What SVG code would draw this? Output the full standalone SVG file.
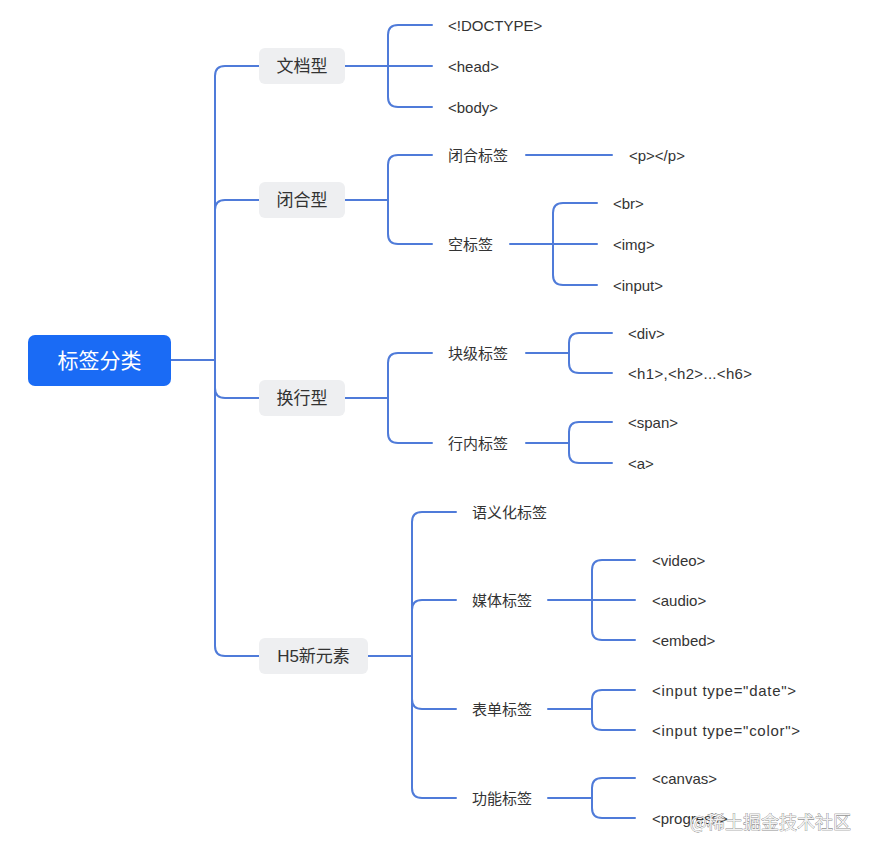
<svg xmlns="http://www.w3.org/2000/svg" width="873" height="856" viewBox="0 0 873 856">
<style>
.c{fill:none;stroke:#4f7bd9;stroke-width:2;stroke-linecap:round}
.l1{fill:#eeeff1}
.t1{font-family:"Liberation Sans","Noto Sans CJK SC",sans-serif;font-size:17px;fill:#333;text-anchor:middle;dominant-baseline:central}
.t2{font-family:"Liberation Sans","Noto Sans CJK SC",sans-serif;font-size:15px;fill:#333;dominant-baseline:central}
.root{font-family:"Liberation Sans","Noto Sans CJK SC",sans-serif;font-size:21px;fill:#fff;text-anchor:middle;dominant-baseline:central}
.wm{font-family:"Noto Sans CJK SC",sans-serif;font-size:18px;fill:#f2f2f2;stroke:#666;stroke-width:0.6;paint-order:stroke}
</style>
<rect width="873" height="856" fill="#fff"/>
<g id="connectors">
<path class="c" d="M171 360 H215"/>
<path class="c" d="M215 360 V76 Q215 66 225 66 H259"/>
<path class="c" d="M215 360 V210 Q215 200 225 200 H259"/>
<path class="c" d="M215 360 V388 Q215 398 225 398 H259"/>
<path class="c" d="M215 360 V646 Q215 656 225 656 H259"/>
<path class="c" d="M345 66 H432"/>
<path class="c" d="M388 66 V35 Q388 25 398 25 H432"/>
<path class="c" d="M388 66 V97 Q388 107 398 107 H432"/>
<path class="c" d="M345 200 H388"/>
<path class="c" d="M388 200 V165 Q388 155 398 155 H432"/>
<path class="c" d="M388 200 V234 Q388 244 398 244 H432"/>
<path class="c" d="M526 155 H612"/>
<path class="c" d="M510 244 H597"/>
<path class="c" d="M553 244 V213 Q553 203 563 203 H597"/>
<path class="c" d="M553 244 V275 Q553 285 563 285 H597"/>
<path class="c" d="M345 398 H388"/>
<path class="c" d="M388 398 V363 Q388 353 398 353 H432"/>
<path class="c" d="M388 398 V433 Q388 443 398 443 H432"/>
<path class="c" d="M526 353 H569"/>
<path class="c" d="M569 353 V343 Q569 333 579 333 H612"/>
<path class="c" d="M569 353 V363 Q569 373 579 373 H612"/>
<path class="c" d="M526 443 H569"/>
<path class="c" d="M569 443 V432 Q569 422 579 422 H612"/>
<path class="c" d="M569 443 V453 Q569 463 579 463 H612"/>
<path class="c" d="M368 656 H412"/>
<path class="c" d="M412 656 V522 Q412 512 422 512 H456"/>
<path class="c" d="M412 656 V610 Q412 600 422 600 H456"/>
<path class="c" d="M412 656 V699 Q412 709 422 709 H456"/>
<path class="c" d="M412 656 V788 Q412 798 422 798 H456"/>
<path class="c" d="M548 600 H635"/>
<path class="c" d="M592 600 V570 Q592 560 602 560 H635"/>
<path class="c" d="M592 600 V630 Q592 640 602 640 H635"/>
<path class="c" d="M548 709 H592"/>
<path class="c" d="M592 709 V700 Q592 690 602 690 H635"/>
<path class="c" d="M592 709 V720 Q592 730 602 730 H635"/>
<path class="c" d="M548 798 H592"/>
<path class="c" d="M592 798 V788 Q592 778 602 778 H635"/>
<path class="c" d="M592 798 V808 Q592 818 602 818 H635"/>
</g>
<g id="root"><rect x="28" y="335" width="143" height="51" rx="7" fill="#1a6bf5"/><text class="root" x="99.5" y="360.5">标签分类</text></g>
<g id="n-doc"><rect class="l1" x="259" y="48" width="86" height="36" rx="6"/><text class="t1" x="302" y="66">文档型</text></g>
<g id="n-close"><rect class="l1" x="259" y="182" width="86" height="36" rx="6"/><text class="t1" x="302" y="200">闭合型</text></g>
<g id="n-line"><rect class="l1" x="259" y="380" width="86" height="36" rx="6"/><text class="t1" x="302" y="398">换行型</text></g>
<g id="n-h5"><rect class="l1" x="259" y="638" width="109" height="36" rx="6"/><text class="t1" x="313.5" y="656">H5新元素</text></g>
<g id="doctype"><text class="t2" x="448" y="25">&lt;!DOCTYPE&gt;</text></g>
<g id="head"><text class="t2" x="448" y="66">&lt;head&gt;</text></g>
<g id="body"><text class="t2" x="448" y="107">&lt;body&gt;</text></g>
<g id="closed-tag"><text class="t2" x="448" y="155">闭合标签</text></g>
<g id="p"><text class="t2" x="629" y="155">&lt;p&gt;&lt;/p&gt;</text></g>
<g id="empty-tag"><text class="t2" x="448" y="244">空标签</text></g>
<g id="br"><text class="t2" x="613" y="203">&lt;br&gt;</text></g>
<g id="img"><text class="t2" x="613" y="244">&lt;img&gt;</text></g>
<g id="input"><text class="t2" x="613" y="285">&lt;input&gt;</text></g>
<g id="block"><text class="t2" x="448" y="353">块级标签</text></g>
<g id="div"><text class="t2" x="628" y="333">&lt;div&gt;</text></g>
<g id="h1"><text class="t2" x="628" y="373" textLength="124">&lt;h1&gt;,&lt;h2&gt;...&lt;h6&gt;</text></g>
<g id="inline"><text class="t2" x="448" y="443">行内标签</text></g>
<g id="span"><text class="t2" x="628" y="422">&lt;span&gt;</text></g>
<g id="a"><text class="t2" x="628" y="463">&lt;a&gt;</text></g>
<g id="semantic"><text class="t2" x="472" y="512">语义化标签</text></g>
<g id="media"><text class="t2" x="472" y="600">媒体标签</text></g>
<g id="video"><text class="t2" x="652" y="560">&lt;video&gt;</text></g>
<g id="audio"><text class="t2" x="652" y="600">&lt;audio&gt;</text></g>
<g id="embed"><text class="t2" x="652" y="640">&lt;embed&gt;</text></g>
<g id="form"><text class="t2" x="472" y="709">表单标签</text></g>
<g id="date"><text class="t2" x="652" y="690" textLength="144">&lt;input type="date"&gt;</text></g>
<g id="color"><text class="t2" x="652" y="730" textLength="148">&lt;input type="color"&gt;</text></g>
<g id="func"><text class="t2" x="472" y="798">功能标签</text></g>
<g id="canvas"><text class="t2" x="652" y="778">&lt;canvas&gt;</text></g>
<g id="progress"><text class="t2" x="652" y="818">&lt;progress&gt;</text></g>
<text class="wm" x="690" y="829">@稀土掘金技术社区</text>
</svg>
